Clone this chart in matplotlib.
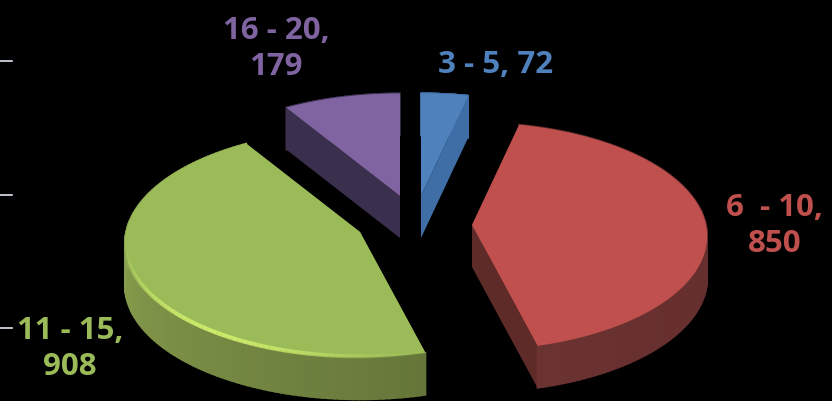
import numpy as np
import matplotlib
matplotlib.use('Agg')
import matplotlib.pyplot as plt
from matplotlib.colors import to_rgb
from matplotlib.collections import LineCollection

categories = ['3 - 5', '6  - 10', '11 - 15', '16 - 20']
values = [72, 850, 908, 179]
colors = ['#4f81bd', '#c0504d', '#9bbb59', '#8064a2']
label_colors = ['#4f81bd', '#c0504d', '#9bbb59', '#8064a2']
side_start = ['#3f6ea6', '#5e2b29', '#66763a', '#3a2f4c']
side_end = ['#3f6ea6', '#6a3230', '#9ab557', '#3a2f4c']

# slice apex in pixels, pie is exploded by hand in the original
apex = [(421, 196), (472, 225), (360, 232), (400, 196)]
label_pos = [(496, 65), (775, 226), (70, 349), (276, 49)]
label_breaks = [False, True, True, True]
tick_y = [61, 195, 328]

RX = 234
RY = 114
PERSP = 0.1
DEPTH = 42


def project(center, theta):
    s = 1 - PERSP * np.cos(theta)
    x = center[0] + RX * np.sin(theta) * s
    y = center[1] - RY * np.cos(theta) * s
    return x, y


def mix(a, b, t):
    a = np.array(to_rgb(a))
    b = np.array(to_rgb(b))
    return tuple(a + (b - a) * t)


fig = plt.figure(figsize=(8.32, 4.01), dpi=100, facecolor='black')
ax = fig.add_axes([0, 0, 1, 1])
ax.set_xlim(0, 832)
ax.set_ylim(401, 0)
ax.axis('off')

for y in tick_y:
    ax.plot([0, 12], [y, y], color='#dfe6f0', lw=1.2, zorder=1)

fracs = np.array(values) / float(sum(values))
edges = np.concatenate([[0], np.cumsum(fracs)]) * 2 * np.pi

for i in [3, 0, 2, 1]:
    c = apex[i]
    th = np.linspace(edges[i], edges[i + 1], 120)
    x, y = project(c, th)

    # radial side faces
    for k in [0, -1]:
        ax.fill([c[0], x[k], x[k], c[0]], [c[1], y[k], y[k] + DEPTH, c[1] + DEPTH],
                color=side_start[i], lw=0, zorder=2)

    # outer rim, shaded along the arc
    for j in range(len(th) - 1):
        t = j / (len(th) - 2.0)
        ax.fill([x[j], x[j + 1], x[j + 1], x[j]],
                [y[j], y[j + 1], y[j + 1] + DEPTH, y[j] + DEPTH],
                color=mix(side_start[i], side_end[i], t), lw=1.2, zorder=3)

    # top
    ax.fill(np.r_[c[0], x], np.r_[c[1], y], color=colors[i], lw=0, zorder=4)

    if categories[i] == '11 - 15':
        seg = np.array([x, y]).T.reshape(-1, 1, 2)
        seg = np.concatenate([seg[:-1], seg[1:]], axis=1)
        seg[:, :, 1] -= 1
        a = np.clip(np.sin((th[:-1] - edges[i]) / (np.pi * 0.55) * np.pi), 0, 1) ** 1.5
        cols = [(0.80, 0.92, 0.42, v) for v in a]
        ax.add_collection(LineCollection(seg, colors=cols, linewidths=3, zorder=5))

for i in range(len(categories)):
    sep = '\n' if label_breaks[i] else ' '
    txt = categories[i] + ',' + sep + str(values[i])
    ax.text(label_pos[i][0], label_pos[i][1], txt, color=label_colors[i],
            family='Open Sans', weight='bold', fontsize=22.5, ha='center', va='center',
            linespacing=1.27, zorder=6)

fig.savefig('out.png', dpi=100, facecolor='black')
